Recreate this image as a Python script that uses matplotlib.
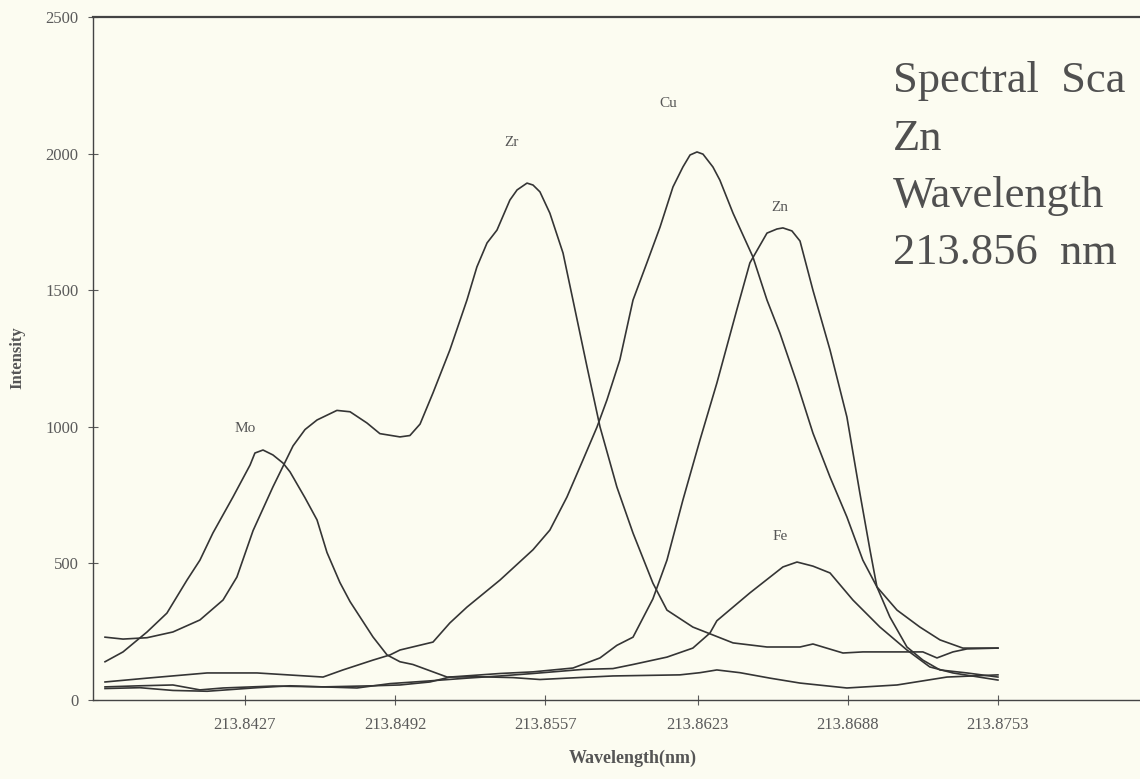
"""
Spectral scan around the Zn 213.856 nm line - overlapping element peaks.
"""

import matplotlib.pyplot as plt

# ---- data (wavelength in nm, intensity in counts) ----
mo_wl = [213.83664, 213.83742, 213.83846, 213.83932, 213.84019, 213.84075, 213.84131,
         213.84218, 213.84292, 213.84313, 213.84348, 213.84391, 213.84435, 213.84465,
         213.84530, 213.84582, 213.84625, 213.84681, 213.84725, 213.84824, 213.84885,
         213.84941, 213.84997, 213.85145, 213.85287, 213.85430, 213.85547, 213.85664,
         213.85863, 213.86153, 213.86240, 213.86313, 213.86413, 213.86543, 213.86673,
         213.86876, 213.87093, 213.87309, 213.87530]
mo_int = [140, 176, 249, 318, 439, 512, 611, 743, 860, 904, 915, 897, 867, 835,
          740, 659, 540, 430, 360, 231, 165, 140, 130, 84, 85, 82, 75, 80,
          88, 92, 100, 110, 100, 80, 62, 44, 55, 84, 92]

zr_wl = [213.83664, 213.83742, 213.83846, 213.83958, 213.84075, 213.84175, 213.84235,
         213.84305, 213.84391, 213.84478, 213.84530, 213.84582, 213.84668, 213.84725,
         213.84798, 213.84854, 213.84941, 213.84984, 213.85028, 213.85084, 213.85157,
         213.85231, 213.85274, 213.85318, 213.85361, 213.85417, 213.85448, 213.85491,
         213.85517, 213.85547, 213.85590, 213.85647, 213.85690, 213.85751, 213.85807,
         213.85880, 213.85950, 213.86036, 213.86097, 213.86209, 213.86383, 213.86530,
         213.86673, 213.86729, 213.86859, 213.86945, 213.87205, 213.87266, 213.87335,
         213.87396, 213.87530]
zr_int = [230, 223, 228, 249, 293, 366, 450, 620, 780, 930, 990, 1025, 1060, 1055,
          1014, 975, 963, 968, 1010, 1124, 1281, 1464, 1585, 1673, 1720, 1830, 1867,
          1892, 1885, 1860, 1782, 1636, 1464, 1219, 1000, 780, 611, 428, 329, 267,
          209, 194, 194, 205, 172, 176, 176, 154, 176, 187, 190]

cu_wl = [213.83664, 213.83846, 213.84106, 213.84322, 213.84608, 213.84694, 213.84824,
         213.84898, 213.84941, 213.85084, 213.85157, 213.85231, 213.85374, 213.85517,
         213.85590, 213.85664, 213.85733, 213.85794, 213.85837, 213.85893, 213.85950,
         213.86010, 213.86067, 213.86123, 213.86166, 213.86197, 213.86227, 213.86253,
         213.86296, 213.86326, 213.86383, 213.86469, 213.86530, 213.86586, 213.86660,
         213.86729, 213.86803, 213.86876, 213.86945, 213.87006, 213.87093, 213.87192,
         213.87279, 213.87378, 213.87530]
cu_int = [66, 80, 99, 99, 84, 110, 146, 165, 183, 212, 282, 340, 439, 550,
          622, 743, 878, 999, 1098, 1245, 1464, 1600, 1731, 1878, 1951, 1995, 2006, 1998,
          1951, 1903, 1782, 1622, 1464, 1343, 1160, 977, 816, 670, 512, 414, 329, 267,
          220, 190, 190]

zn_wl = [213.83664, 213.83815, 213.83958, 213.84106, 213.84322, 213.84465, 213.84608,
         213.84824, 213.84941, 213.85071, 213.85157, 213.85374, 213.85517, 213.85690,
         213.85807, 213.85880, 213.85950, 213.86036, 213.86097, 213.86166, 213.86240,
         213.86313, 213.86400, 213.86456, 213.86530, 213.86573, 213.86599, 213.86638,
         213.86673, 213.86729, 213.86803, 213.86876, 213.86932, 213.86976, 213.87006,
         213.87062, 213.87136, 213.87205, 213.87279, 213.87396, 213.87530]
zn_int = [42, 45, 35, 32, 45, 52, 48, 52, 55, 66, 84, 97, 103, 117,
          154, 200, 230, 370, 512, 732, 952, 1160, 1430, 1600, 1709, 1724, 1728, 1717,
          1680, 1500, 1281, 1036, 758, 549, 414, 304, 194, 146, 110, 99, 84]

fe_wl = [213.83664, 213.83815, 213.83958, 213.84075, 213.84175, 213.84391, 213.84608,
         213.84755, 213.84898, 213.85071, 213.85231, 213.85374, 213.85517, 213.85733,
         213.85863, 213.85950, 213.86097, 213.86209, 213.86283, 213.86313, 213.86456,
         213.86599, 213.86660, 213.86729, 213.86803, 213.86902, 213.87019, 213.87136,
         213.87235, 213.87335, 213.87530]
fe_int = [48, 52, 55, 37, 44, 51, 48, 44, 60, 70, 80, 88, 97, 112,
          115, 130, 157, 190, 245, 290, 392, 487, 505, 490, 465, 366, 267, 183,
          121, 99, 73]

elements = ["Mo", "Zr", "Cu", "Zn", "Fe"]
label_wl = [213.8427, 213.85426, 213.86101, 213.86586, 213.86586]
label_int = [995, 2042, 2185, 1801, 597]

tick_wl = [213.8427, 213.8492, 213.8557, 213.8623, 213.8688, 213.8753]
tick_labels = ["213.8427", "213.8492", "213.8557", "213.8623", "213.8688", "213.8753"]

# text box on the right, cut by the page edge in the scan
info_lines = ["Spectral  Sca", "Zn", "Wavelength", "213.856  nm"]

paper = "#fcfcf1"
ink = "#353535"

plt.rcParams["font.family"] = ["Liberation Serif", "DejaVu Serif"]

fig = plt.figure(figsize=(11.4, 7.79), dpi=100, facecolor=paper)
ax = fig.add_axes([93 / 1140, 79 / 779, 1 - 93 / 1140, 683 / 779])
ax.set_facecolor(paper)

for wl, inten in [(mo_wl, mo_int), (zr_wl, zr_int), (cu_wl, cu_int),
                  (zn_wl, zn_int), (fe_wl, fe_int)]:
    ax.plot(wl, inten, color=ink, lw=1.2)

for name, x, y in zip(elements, label_wl, label_int):
    ax.text(x, y, name, fontsize=11, color="#555555", ha="center", va="center")

ax.set_xlim(213.83612, 213.88145)
ax.set_ylim(0, 2500)
ax.set_xticks(tick_wl)
ax.set_xticklabels(tick_labels)
ax.set_yticks([0, 500, 1000, 1500, 2000, 2500])
ax.tick_params(direction="inout", length=7, width=0.8, colors="#5a5a5a",
               labelsize=12, pad=7)
ax.tick_params(axis="x", pad=9)

ax.spines["right"].set_visible(False)
for side in ["left", "bottom"]:
    ax.spines[side].set_color("#444444")
    ax.spines[side].set_linewidth(1.0)
ax.spines["top"].set_color("#444444")
ax.spines["top"].set_linewidth(1.6)

fig.text(17 / 1140, 1 - 358 / 779, "Intensity", rotation=90, fontsize=12,
         fontweight="bold", color="#555555", ha="center", va="center")
fig.text(633 / 1140, 1 - 758 / 779, "Wavelength(nm)", fontsize=13,
         fontweight="bold", color="#555555", ha="center", va="center")

for line, base in zip(info_lines, [92, 150, 207, 264]):
    fig.text(893 / 1140, 1 - base / 779, line, fontsize=32, color="#505050",
             ha="left", va="baseline")

fig.savefig("out.png", dpi=100, facecolor=paper)
